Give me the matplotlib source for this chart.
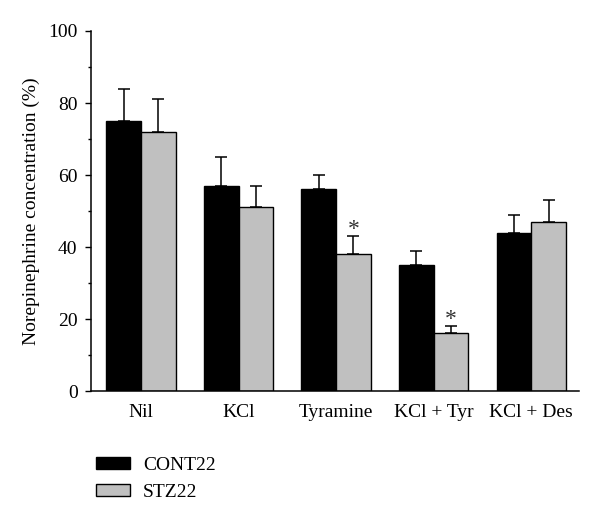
import numpy as np
from matplotlib import pyplot as plt

plt.rcParams['font.family'] = ['Liberation Serif', 'DejaVu Serif']

categories = ['Nil', 'KCl', 'Tyramine', 'KCl + Tyr', 'KCl + Des']
cont_mean = [75, 57, 56, 35, 44]
cont_err = [9, 8, 4, 4, 5]
stz_mean = [72, 51, 38, 16, 47]
stz_err = [9, 6, 5, 2, 6]
stars = [False, False, True, True, False]  # significance vs CONT22

fig = plt.figure(figsize=(6, 5.2), dpi=100)
ax = fig.add_axes([0.152, 0.248, 0.813, 0.6924])

x = np.arange(len(categories))
w = 0.355
err_kw = dict(ecolor='black', elinewidth=1.1, capsize=4.3, capthick=1.1)

ax.bar(x - w / 2, cont_mean, w, color='black', edgecolor='black', linewidth=1.0,
       yerr=[np.zeros(len(x)), cont_err], error_kw=err_kw, label='CONT22')
ax.bar(x + w / 2, stz_mean, w, color='#c0c0c0', edgecolor='black', linewidth=1.0,
       yerr=[np.zeros(len(x)), stz_err], error_kw=err_kw, label='STZ22')

# asterisks sit right on top of the error caps
for i, s in enumerate(stars):
    if s:
        ax.text(x[i] + w / 2, stz_mean[i] + stz_err[i] + 0.3, '*', ha='center',
                va='baseline', fontsize=17, color='#333333')

ax.set_xlim(-0.51, 4.49)
ax.set_ylim(0, 100)
ax.set_yticks(range(0, 101, 20))
ax.set_yticks(range(10, 100, 20), minor=True)
ax.set_xticks(x)
ax.set_xticklabels(categories)
ax.tick_params(axis='x', length=0, pad=9, labelsize=14)
ax.tick_params(axis='y', which='major', length=4.3, width=1.0, pad=5.5, labelsize=14, direction='out')
ax.tick_params(axis='y', which='minor', length=2.3, width=1.0, direction='out')
ax.spines['top'].set_visible(False)
ax.spines['right'].set_visible(False)
ax.spines['left'].set_linewidth(1.1)
ax.spines['bottom'].set_linewidth(1.1)
ax.set_ylabel('Norepinephrine concentration (%)', fontsize=14, labelpad=6)

fig.legend(loc='lower left', bbox_to_anchor=(0.147, 0.022), frameon=False,
           fontsize=14, handlelength=1.75, handleheight=0.62, handletextpad=0.67,
           labelspacing=0.5, borderaxespad=0)

fig.savefig('out.png', dpi=100)
